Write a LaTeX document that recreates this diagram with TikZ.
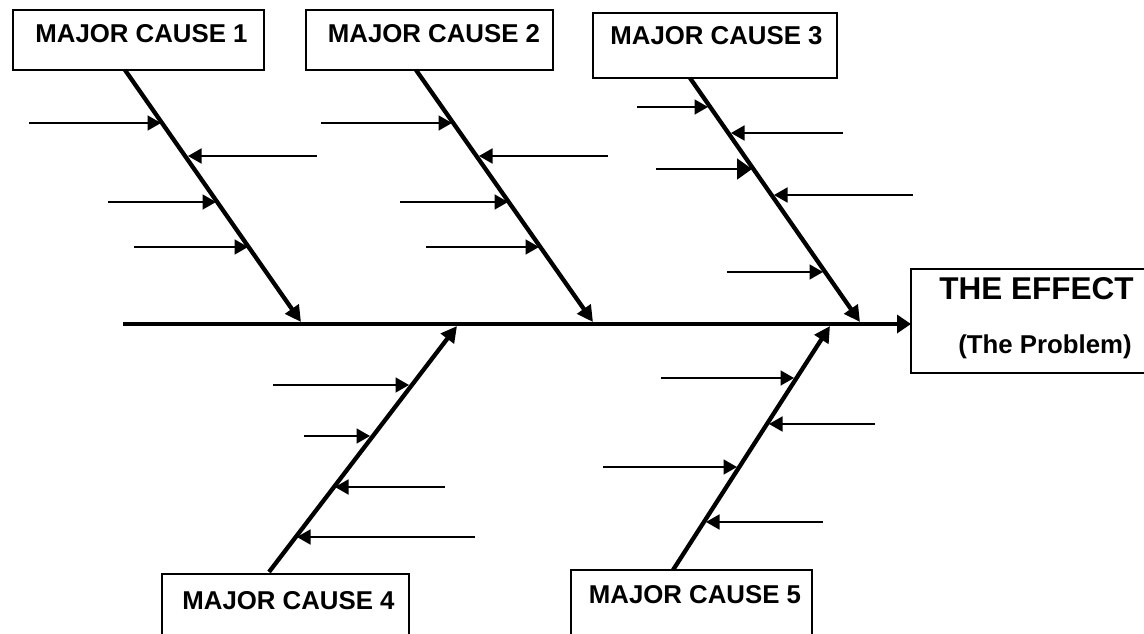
\documentclass[tikz,border=0pt]{standalone}
\usepackage{fontspec}
\setmainfont{Liberation Sans}
\usetikzlibrary{arrows.meta}
\begin{document}
\begin{tikzpicture}[x=1pt,y=-1pt,
  box/.style={draw, line width=1.6pt, inner sep=0pt, outer sep=0pt, fill=none},
  lbl/.style={inner sep=0pt, font=\bfseries\fontsize{25.8}{30}\selectfont},
  biglbl/.style={inner sep=0pt, font=\bfseries\fontsize{31.5}{36}\selectfont},
  bone/.style={line width=4.3pt, -{Triangle[length=16pt,width=16pt]}},
  spine/.style={line width=4.3pt, -{Triangle[length=14pt,width=18pt]}},
  sub/.style={line width=1.8pt, -{Triangle[length=13.5pt,width=15pt]}},
  subbig/.style={line width=1.8pt, -{Triangle[length=15pt,width=21pt]}}]
\useasboundingbox (0,0) rectangle (1144,633);
% boxes
\node[box, minimum width=251pt, minimum height=60pt] (c1) at (138.5,40) {};
\node[box, minimum width=247pt, minimum height=60pt] (c2) at (429.5,40) {};
\node[box, minimum width=244pt, minimum height=65pt] (c3) at (715,45.5) {};
\node[box, minimum width=247pt, minimum height=76pt] (c4) at (285.5,612) {};
\node[box, minimum width=241pt, minimum height=80pt] (c5) at (691.5,610) {};
\node[box, minimum width=249pt, minimum height=104pt] (eff) at (1035.5,321) {};
% labels
\node[lbl] (t1) at (141.5,33.5) {MAJOR CAUSE 1};
\node[lbl] (t2) at (434,33.5) {MAJOR CAUSE 2};
\node[lbl] (t3) at (716.5,36) {MAJOR CAUSE 3};
\node[lbl] (t4) at (288.5,600.5) {MAJOR CAUSE 4};
\node[lbl] (t5) at (695,594.5) {MAJOR CAUSE 5};
\node[biglbl] (te) at (1036.5,289) {THE EFFECT};
\node[lbl] (tp) at (1045,347) {(The Problem)};
% spine
\coordinate (s0) at (123,324);
\draw[spine] (s0) -- (eff.west |- s0);
% bone ends
\coordinate (b1s) at (125,70);  \coordinate (b1e) at (301,322);
\coordinate (b2s) at (416,70);  \coordinate (b2e) at (593,322);
\coordinate (b3s) at (690,78);  \coordinate (b3e) at (860,322);
\coordinate (b4s) at (269,572); \coordinate (b4e) at (457,326);
\coordinate (b5s) at (673,570); \coordinate (b5e) at (830,326);
\draw[bone] (b1s) -- (b1e);
\draw[bone] (b2s) -- (b2e);
\draw[bone] (b3s) -- (b3e);
\draw[bone] (b4s) -- (b4e);
\draw[bone] (b5s) -- (b5e);
% sub-cause arrows, bone 1
\coordinate (a1) at (29,123);  \coordinate (a1t) at (161,123);
\coordinate (a2) at (317,156); \coordinate (a2t) at (188,156);
\coordinate (a3) at (108,202); \coordinate (a3t) at (216,202);
\coordinate (a4) at (134,247); \coordinate (a4t) at (248,247);
\draw[sub] (a1) -- (a1t);
\draw[sub] (a2) -- (a2t);
\draw[sub] (a3) -- (a3t);
\draw[sub] (a4) -- (a4t);
% bone 2
\coordinate (d1) at (321,123); \coordinate (d1t) at (452,123);
\coordinate (d2) at (608,156); \coordinate (d2t) at (479,156);
\coordinate (d3) at (400,202); \coordinate (d3t) at (508,202);
\coordinate (d4) at (426,247); \coordinate (d4t) at (539,247);
\draw[sub] (d1) -- (d1t);
\draw[sub] (d2) -- (d2t);
\draw[sub] (d3) -- (d3t);
\draw[sub] (d4) -- (d4t);
% bone 3
\coordinate (e1) at (637,107); \coordinate (e1t) at (708,107);
\coordinate (e2) at (843,133); \coordinate (e2t) at (731,133);
\coordinate (e3) at (656,169); \coordinate (e3t) at (752,169);
\coordinate (e4) at (913,195); \coordinate (e4t) at (774,195);
\coordinate (e5) at (727,272); \coordinate (e5t) at (823,272);
\draw[sub] (e1) -- (e1t);
\draw[sub] (e2) -- (e2t);
\draw[subbig] (e3) -- (e3t);
\draw[sub] (e4) -- (e4t);
\draw[sub] (e5) -- (e5t);
% bone 4
\coordinate (f1) at (273,385); \coordinate (f1t) at (409,385);
\coordinate (f2) at (304,436); \coordinate (f2t) at (370,436);
\coordinate (f3) at (445,487); \coordinate (f3t) at (335,487);
\coordinate (f4) at (475,537); \coordinate (f4t) at (297,537);
\draw[sub] (f1) -- (f1t);
\draw[sub] (f2) -- (f2t);
\draw[sub] (f3) -- (f3t);
\draw[sub] (f4) -- (f4t);
% bone 5
\coordinate (g1) at (661,378); \coordinate (g1t) at (794,378);
\coordinate (g2) at (875,424); \coordinate (g2t) at (769,424);
\coordinate (g3) at (603,467); \coordinate (g3t) at (737,467);
\coordinate (g4) at (823,522); \coordinate (g4t) at (706,522);
\draw[sub] (g1) -- (g1t);
\draw[sub] (g2) -- (g2t);
\draw[sub] (g3) -- (g3t);
\draw[sub] (g4) -- (g4t);
\end{tikzpicture}
\end{document}
